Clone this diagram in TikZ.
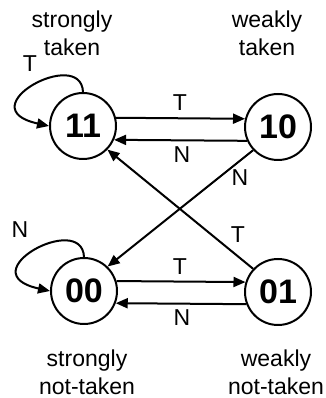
\documentclass[tikz,border=0pt]{standalone}
\usepackage{fontspec}
\setmainfont{Liberation Sans}
\usetikzlibrary{arrows.meta,calc}
\begin{document}
\begin{tikzpicture}[x=1pt,y=1pt,
  state/.style={circle,draw,line width=2pt,minimum size=66pt,inner sep=0pt,font=\fontsize{34}{34}\selectfont\bfseries},
  caption/.style={align=center,font=\fontsize{23}{28}\selectfont},
  lbl/.style={font=\fontsize{23}{23}\selectfont},
  edge/.style={line width=2pt,-{Triangle[length=12pt,width=10pt]}}]
\useasboundingbox (0,0) rectangle (325,398);
\node[state] (n11) at (83,272) {11};
\node[state] (n10) at (278,271) {10};
\node[state] (n00) at (84,107) {00};
\node[state] (n01) at (278,106) {01};
\node[caption] (c11) at (72,365) {strongly\\taken};
\node[caption] (c10) at (267,365) {weakly\\taken};
\node[caption] (c00) at (87,26) {strongly\\not-taken};
\node[caption] (c01) at (276,26) {weakly\\not-taken};
\draw[edge] (n11.14) -- (n10.166);
\draw[edge] (n10.204) -- (n11.-24);
\draw[edge] (n00.17) -- (n01.163);
\draw[edge] (n01.201) -- (n00.-21);
\draw[edge] (n10.223) -- (n00.46);
\draw[edge] (n01.137) -- (n11.-44);
\draw[edge] (n11.north) .. controls ($(n11.north)+(-2,46)$) and ($(n11.west)+(-82,18)$) .. (n11.west);
\draw[edge] (n00.north) .. controls ($(n00.north)+(-2,46)$) and ($(n00.west)+(-82,18)$) .. (n00.west);
\node[lbl] (t1) at (180,295) {T};
\node[lbl] (t2) at (182,243) {N};
\node[lbl] (t3) at (240,220) {N};
\node[lbl] (t4) at (238,163) {T};
\node[lbl] (t5) at (180,131) {T};
\node[lbl] (t6) at (182,80) {N};
\node[lbl] (t7) at (30,334) {T};
\node[lbl] (t8) at (20,168) {N};
\end{tikzpicture}
\end{document}
